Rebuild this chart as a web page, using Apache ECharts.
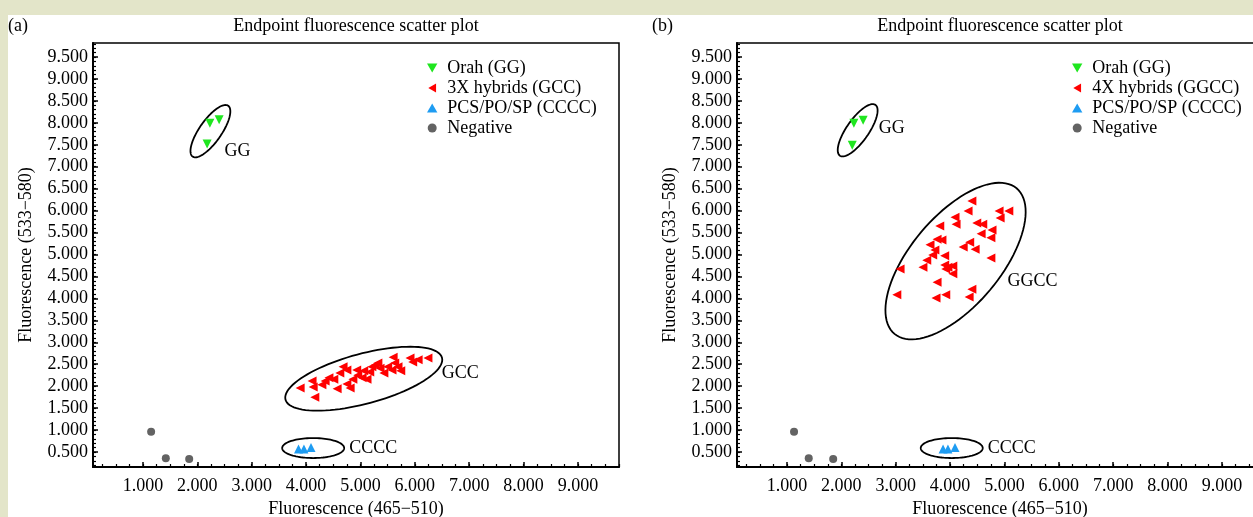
<!DOCTYPE html>
<html><head><meta charset="utf-8">
<script src="https://cdn.jsdelivr.net/npm/echarts@6/dist/echarts.min.js"></script>
<style>html,body{margin:0;padding:0;background:#fff}#c{width:1253px;height:517px}</style>
</head><body><div id="c"></div>
<script>
// ---------- data ----------
const xTickValues = [1, 2, 3, 4, 5, 6, 7, 8, 9];
const yTickValues = [0.5, 1, 1.5, 2, 2.5, 3, 3.5, 4, 4.5, 5, 5.5, 6, 6.5, 7, 7.5, 8, 8.5, 9, 9.5];
const xRange = [0.081, 9.754];
const yRange = [0.158, 9.819];

const seriesNamesA = ['Orah (GG)', '3X hybrids (GCC)', 'PCS/PO/SP (CCCC)', 'Negative'];
const seriesNamesB = ['Orah (GG)', '4X hybrids (GGCC)', 'PCS/PO/SP (CCCC)', 'Negative'];

const orahA = [[2.23, 7.99], [2.40, 8.07], [2.18, 7.52]];
const orahB = [[2.23, 7.99], [2.40, 8.06], [2.20, 7.49]];

const hybrids3X = [
  [3.89, 1.96], [4.11, 2.12], [4.13, 1.98], [4.16, 1.75], [4.29, 2.03], [4.35, 2.12],
  [4.42, 2.19], [4.51, 2.16], [4.57, 1.94], [4.62, 2.30], [4.68, 2.44], [4.75, 2.37],
  [4.75, 2.05], [4.81, 1.96], [4.86, 2.16], [4.93, 2.37], [4.95, 2.25], [5.03, 2.19],
  [5.06, 2.35], [5.12, 2.16], [5.17, 2.32], [5.21, 2.44], [5.27, 2.48], [5.32, 2.53],
  [5.36, 2.41], [5.43, 2.30], [5.50, 2.44], [5.58, 2.37], [5.60, 2.66], [5.63, 2.53],
  [5.69, 2.44], [5.74, 2.35], [5.91, 2.64], [5.96, 2.55], [6.06, 2.60], [6.24, 2.64]
];
const hybrids4X = [
  [4.40, 6.22], [4.33, 5.99], [4.90, 5.99], [5.08, 5.99], [4.92, 5.83], [4.09, 5.85],
  [4.11, 5.69], [3.81, 5.65], [4.49, 5.72], [4.60, 5.69], [4.77, 5.56], [4.57, 5.47],
  [4.75, 5.38], [3.76, 5.35], [3.85, 5.33], [3.63, 5.22], [4.36, 5.28], [4.24, 5.17],
  [4.46, 5.12], [3.72, 5.10], [3.68, 4.99], [3.90, 4.97], [3.57, 4.87], [4.75, 4.92],
  [3.50, 4.71], [3.08, 4.67], [3.90, 4.76], [3.96, 4.71], [4.05, 4.74], [3.92, 4.67],
  [4.05, 4.56], [3.76, 4.37], [4.40, 4.21], [3.02, 4.08], [3.74, 4.01], [3.92, 4.08],
  [4.35, 4.03]
];
const pcsA = [[3.86, 0.57], [3.96, 0.57], [4.09, 0.60]];
const pcsB = [[3.87, 0.57], [3.96, 0.57], [4.09, 0.60]];
const negativeA = [[1.15, 0.96], [1.42, 0.36], [1.85, 0.34]];
const negativeB = [[1.13, 0.96], [1.40, 0.36], [1.85, 0.34]];

// cluster annotations (centres in data units)
const clusterLabelsA = ['GG', 'GCC', 'CCCC'];
const clusterCentresA = [[2.24, 7.81], [5.06, 2.17], [4.13, 0.59]];
const clusterLabelsB = ['GG', 'GGCC', 'CCCC'];
const clusterCentresB = [[2.30, 7.83], [4.10, 4.85], [4.03, 0.59]];

// ---------- styling / layout ----------
const FONT = '"Liberation Serif", "Times New Roman", serif';
const shapesA = [
  {rx: 31, ry: 11, angle: 55, lx: 14, ly: 20},
  {rx: 81, ry: 25, angle: 15, lx: 78, ly: -5},
  {rx: 31, ry: 10, angle: 0, lx: 36, ly: 0}
];
const shapesB = [
  {rx: 31, ry: 11, angle: 55, lx: 21, ly: -2},
  {rx: 95, ry: 45, angle: 50, lx: 52, ly: 20},
  {rx: 31, ry: 10, angle: 0, lx: 36, ly: 0}
];
const COLORS = {green: '#1fe61f', red: '#ff0000', blue: '#1e9cf2', gray: '#636363'};
const ICONS = {
  down: 'path://M0,0L10,0L5,8.66Z',
  left: 'path://M8.66,0L8.66,10L0,5Z',
  up: 'path://M5,0L10,8.66L0,8.66Z',
  circle: 'circle'
};
const legendIcons = [ICONS.down, ICONS.left, ICONS.up, ICONS.circle];

const xMinorTicks = [];
for (let v = 0.25; v < xRange[1]; v += 0.25) xMinorTicks.push(+v.toFixed(2));
const yMinorTicks = [];
for (let v = 0.2; v < yRange[1]; v += 0.1) yMinorTicks.push(+v.toFixed(1));

const gridsRect = [
  {left: 93, top: 43, width: 526, height: 424},
  {left: 737, top: 43, width: 526, height: 424}
];

function mainX(gi) {
  return {
    type: 'value', gridIndex: gi, min: xRange[0], max: xRange[1],
    name: 'Fluorescence (465\u2212510)', nameLocation: 'middle', nameGap: 32,
    nameTextStyle: {fontSize: 18, color: '#000', fontFamily: FONT},
    axisLine: {show: true, onZero: false, lineStyle: {color: '#000', width: 2}},
    axisTick: {show: true, inside: true, length: 5, customValues: xTickValues, lineStyle: {color: '#000', width: 1.5}},
    axisLabel: {show: true, customValues: xTickValues, margin: 10, fontSize: 18, color: '#000', fontFamily: FONT,
      formatter: v => v.toFixed(3)},
    splitLine: {show: false}
  };
}
function mainY(gi) {
  return {
    type: 'value', gridIndex: gi, min: yRange[0], max: yRange[1],
    name: 'Fluorescence (533\u2212580)', nameLocation: 'middle', nameGap: 58,
    nameTextStyle: {fontSize: 18, color: '#000', fontFamily: FONT},
    axisLine: {show: true, onZero: false, lineStyle: {color: '#000', width: 2}},
    axisTick: {show: true, inside: true, length: 5, customValues: yTickValues, lineStyle: {color: '#000', width: 1.5}},
    axisLabel: {show: true, customValues: yTickValues, margin: 5, fontSize: 18, color: '#000', fontFamily: FONT,
      formatter: v => v.toFixed(3)},
    splitLine: {show: false}
  };
}
function minorX(gi) {
  return {
    type: 'value', gridIndex: gi, min: xRange[0], max: xRange[1],
    axisLine: {show: false, onZero: false},
    axisTick: {show: true, inside: true, length: 3, customValues: xMinorTicks, lineStyle: {color: '#000', width: 1.2}},
    axisLabel: {show: false}, splitLine: {show: false}
  };
}
function minorY(gi) {
  return {
    type: 'value', gridIndex: gi, min: yRange[0], max: yRange[1],
    axisLine: {show: false, onZero: false},
    axisTick: {show: true, inside: true, length: 3, customValues: yMinorTicks, lineStyle: {color: '#000', width: 1.2}},
    axisLabel: {show: false}, splitLine: {show: false}
  };
}

function scatter(name, data, ai, symbol, rotate, size, color) {
  return {
    type: 'scatter', name, data, xAxisIndex: ai, yAxisIndex: ai,
    symbol, symbolRotate: rotate, symbolSize: size,
    itemStyle: {color, opacity: 1}, z: 3
  };
}

function ellipseSeries(centres, labels, shapes, ai) {
  return {
    type: 'custom', xAxisIndex: ai, yAxisIndex: ai, silent: true, z: 2,
    data: centres,
    renderItem(params, api) {
      const s = shapes[params.dataIndex];
      const c = api.coord([api.value(0), api.value(1)]);
      const th = s.angle * Math.PI / 180;
      const pts = [];
      for (let i = 0; i < 96; i++) {
        const t = i / 96 * 2 * Math.PI;
        const ex = s.rx * Math.cos(t), ey = s.ry * Math.sin(t);
        pts.push([c[0] + ex * Math.cos(th) - ey * Math.sin(th), c[1] - (ex * Math.sin(th) + ey * Math.cos(th))]);
      }
      return {
        type: 'group', children: [
          {type: 'polygon', shape: {points: pts}, style: {fill: 'none', stroke: '#000', lineWidth: 1.8}},
          {type: 'text', style: {text: labels[params.dataIndex], x: c[0] + s.lx, y: c[1] + s.ly,
            font: '18px ' + FONT, fill: '#000', align: 'left', verticalAlign: 'middle'}}
        ]
      };
    }
  };
}

function legend(names, left) {
  return {
    data: names.map((n, i) => ({name: n, icon: legendIcons[i]})),
    orient: 'vertical', left, top: 58, padding: 0, itemGap: 0,
    itemWidth: 20, itemHeight: 9, selectedMode: false, symbolKeepAspect: true,
    textStyle: {fontSize: 18, lineHeight: 20, color: '#000', fontFamily: FONT}
  };
}

const chart = echarts.init(document.getElementById('c'), null, {renderer: 'canvas'});
chart.setOption({
  animation: false,
  backgroundColor: '#fff',
  textStyle: {fontFamily: FONT},
  graphic: [
    {type: 'rect', shape: {x: 0, y: 0, width: 1253, height: 15}, style: {fill: '#e3e5c9'}, z: -10},
    {type: 'rect', shape: {x: 0, y: 0, width: 8, height: 517}, style: {fill: '#e3e5c9'}, z: -10},
    {type: 'text', x: 8, y: 26, style: {text: '(a)', font: '18px ' + FONT, fill: '#000', align: 'left', verticalAlign: 'middle'}},
    {type: 'text', x: 652, y: 26, style: {text: '(b)', font: '18px ' + FONT, fill: '#000', align: 'left', verticalAlign: 'middle'}},
    {type: 'text', x: 356, y: 26, style: {text: 'Endpoint fluorescence scatter plot', font: '18px ' + FONT, fill: '#000', align: 'center', verticalAlign: 'middle'}},
    {type: 'text', x: 1000, y: 26, style: {text: 'Endpoint fluorescence scatter plot', font: '18px ' + FONT, fill: '#000', align: 'center', verticalAlign: 'middle'}}
  ],
  legend: [legend(seriesNamesA, 427), legend(seriesNamesB, 1072)],
  grid: [
    Object.assign({show: true, borderColor: '#000', borderWidth: 1.5, backgroundColor: 'transparent', outerBoundsMode: 'none', containLabel: false}, gridsRect[0]),
    Object.assign({show: true, borderColor: '#000', borderWidth: 1.5, backgroundColor: 'transparent', outerBoundsMode: 'none', containLabel: false}, gridsRect[1]),
    Object.assign({show: false, outerBoundsMode: 'none', containLabel: false}, gridsRect[0]),
    Object.assign({show: false, outerBoundsMode: 'none', containLabel: false}, gridsRect[1])
  ],
  xAxis: [mainX(0), mainX(1), minorX(2), minorX(3)],
  yAxis: [mainY(0), mainY(1), minorY(2), minorY(3)],
  series: [
    scatter(seriesNamesA[0], orahA, 0, 'triangle', 180, 9, COLORS.green),
    scatter(seriesNamesA[1], hybrids3X, 0, 'triangle', 90, 9, COLORS.red),
    scatter(seriesNamesA[2], pcsA, 0, 'triangle', 0, 9, COLORS.blue),
    scatter(seriesNamesA[3], negativeA, 0, 'circle', 0, 8, COLORS.gray),
    scatter(seriesNamesB[0], orahB, 1, 'triangle', 180, 9, COLORS.green),
    scatter(seriesNamesB[1], hybrids4X, 1, 'triangle', 90, 9, COLORS.red),
    scatter(seriesNamesB[2], pcsB, 1, 'triangle', 0, 9, COLORS.blue),
    scatter(seriesNamesB[3], negativeB, 1, 'circle', 0, 8, COLORS.gray),
    ellipseSeries(clusterCentresA, clusterLabelsA, shapesA, 0),
    ellipseSeries(clusterCentresB, clusterLabelsB, shapesB, 1)
  ]
});
</script>
</body></html>
